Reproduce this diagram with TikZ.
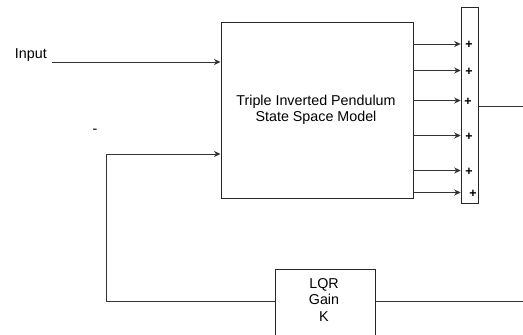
\documentclass[tikz,border=0pt]{standalone}
\usepackage{fontspec}
\setmainfont{Liberation Sans}
\usetikzlibrary{arrows.meta}
\begin{document}
\begin{tikzpicture}[x=1pt,y=-1pt,
  line/.style={draw=black!80,line width=1pt},
  arr/.style={line,-{Stealth[length=6.5pt,width=6pt,inset=2pt]}},
  blk/.style={draw=black!85,line width=1pt,inner sep=0pt},
  lbl/.style={font=\fontsize{14.3}{16.5}\selectfont,align=center,inner sep=0pt},
  pl/.style={font=\fontsize{12.5}{12.5}\selectfont\bfseries,inner sep=0pt}]
\useasboundingbox (0,0) rectangle (523,335);
% main block
\node[blk,minimum width=192pt,minimum height=176pt] (ss) at (317,110.5) {};
\node[lbl] (sstext) at (316,110) {Triple Inverted Pendulum\\State Space Model};
% summing bar
\node[blk,minimum width=17.5pt,minimum height=196pt] (sum) at (470,105) {};
% LQR block
\node[blk,minimum width=100pt,minimum height=80pt] (lqr) at (325,309) {};
\node[lbl,anchor=north] (lqrtext) at (324,278) {LQR\\Gain\\K};
% input
\node[lbl,anchor=east] (inlbl) at (47,55) {Input};
\coordinate (instart) at (52,62);
\draw[arr] (instart) -- (ss.west |- instart);
% minus
\node[lbl] (minus) at (95,131) {-};
% feedback
\coordinate (fbr) at (523,301);
\coordinate (fbc) at (106,301);
\coordinate (fbu) at (106,154);
\draw[line] (fbr) -- (lqr.east |- fbr);
\draw[arr] (lqr.west |- fbc) -- (fbc) -- (fbu) -- (ss.west |- fbu);
% output
\coordinate (out) at (523,106);
\draw[line] (sum.east |- out) -- (out);
% six arrows
\foreach \y/\px [count=\i] in {44/469,70.5/469,100.5/468,135.5/469,170.5/469,192.5/473}{
  \coordinate (a\i) at (413,\y);
  \draw[arr] (a\i) -- (sum.west |- a\i);
  \node[pl] (p\i) at (\px,\y+1) {+};
}
\end{tikzpicture}
\end{document}
